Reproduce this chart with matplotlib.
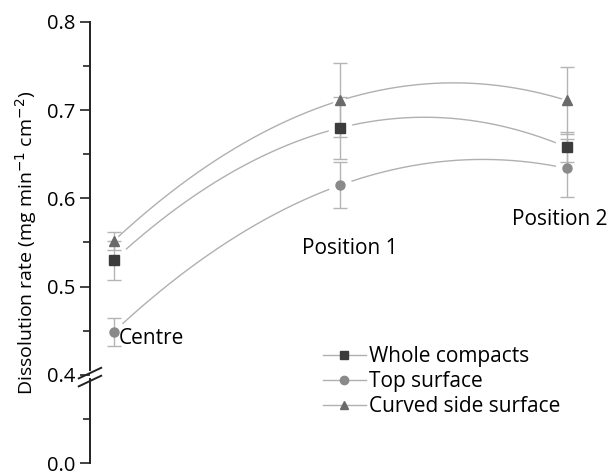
import numpy as np
import matplotlib.pyplot as plt
from matplotlib.lines import Line2D

plt.rcParams['font.family'] = ['Open Sans', 'DejaVu Sans']

# data
positions = ['Centre', 'Position 1', 'Position 2']
whole = [0.530, 0.680, 0.658]
whole_err = [0.022, 0.035, 0.017]
top = [0.449, 0.615, 0.634]
top_err = [0.016, 0.026, 0.033]
curved = [0.552, 0.711, 0.711]
curved_err = [0.010, 0.042, 0.038]

series = [
    ('Whole compacts', whole, whole_err, 's', '#3c3c3c'),
    ('Top surface', top, top_err, 'o', '#8a8a8a'),
    ('Curved side surface', curved, curved_err, '^', '#6a6a6a'),
]

fig = plt.figure(figsize=(6.12, 4.75), dpi=100)
ax = fig.add_axes([0.147, 0.025, 0.833, 0.929])

x = np.arange(len(positions))
xs = np.linspace(0, 2, 200)
line_col = '#b0b0b0'
handles = []
for name, vals, err, mk, col in series:
    coef = np.polyfit(x, vals, 2)
    ax.plot(xs, np.polyval(coef, xs), color=line_col, lw=1.0, zorder=1)
    ax.plot(x, vals, ls='none', marker=mk, ms=16, color='white', zorder=2)
    ax.errorbar(x, vals, yerr=err, fmt='none', ecolor='#b4b4b4', elinewidth=1.0,
                capsize=5, capthick=1.0, zorder=3)
    ax.plot(x, vals, ls='none', marker=mk, ms=6.5, color=col, zorder=4)
    handles.append(Line2D([], [], color=line_col, lw=1.0, marker=mk, ms=6,
                          mfc=col, mec=col))

# point labels
ax.text(0.02, 0.441, 'Centre', fontsize=15, ha='left', va='center')
ax.text(1.04, 0.543, 'Position 1', fontsize=15, ha='center', va='center')
ax.text(1.97, 0.576, 'Position 2', fontsize=15, ha='center', va='center')

# y axis with a break: 0.0 drawn at 0.3
ax.set_ylim(0.3, 0.8)
ax.set_xlim(-0.106, 2.146)
ax.set_yticks([0.3, 0.4, 0.5, 0.6, 0.7, 0.8])
ax.set_yticklabels(['0.0', '0.4', '0.5', '0.6', '0.7', '0.8'])
ax.set_yticks([0.35, 0.45, 0.55, 0.65, 0.75], minor=True)
ax.tick_params(axis='y', which='major', length=7, width=1.2, labelsize=14.5, colors='#222222',
               labelcolor='black')
ax.tick_params(axis='y', which='minor', length=5, width=1.2, colors='#222222')
ax.set_xticks([])
for s in ['top', 'right', 'bottom', 'left']:
    ax.spines[s].set_visible(False)

tr = ax.get_yaxis_transform()
ax.plot([0, 0], [0.3, 0.395], color='#222222', lw=1.4, transform=tr, clip_on=False)
ax.plot([0, 0], [0.405, 0.8], color='#222222', lw=1.4, transform=tr, clip_on=False)
for y0 in [0.393, 0.402]:
    ax.plot([-0.022, 0.022], [y0 - 0.006, y0 + 0.006], color='#222222', lw=1.4,
            transform=tr, clip_on=False)

ax.set_ylabel('Dissolution rate (mg min$^{-1}$ cm$^{-2}$)', fontsize=14, labelpad=6)

ax.legend(handles, [s[0] for s in series], loc='upper left', bbox_to_anchor=(0.44, 0.284),
          frameon=False, fontsize=15, handlelength=2.1, handletextpad=0.15,
          labelspacing=0.2, borderaxespad=0)

fig.savefig('out.png', dpi=100)
